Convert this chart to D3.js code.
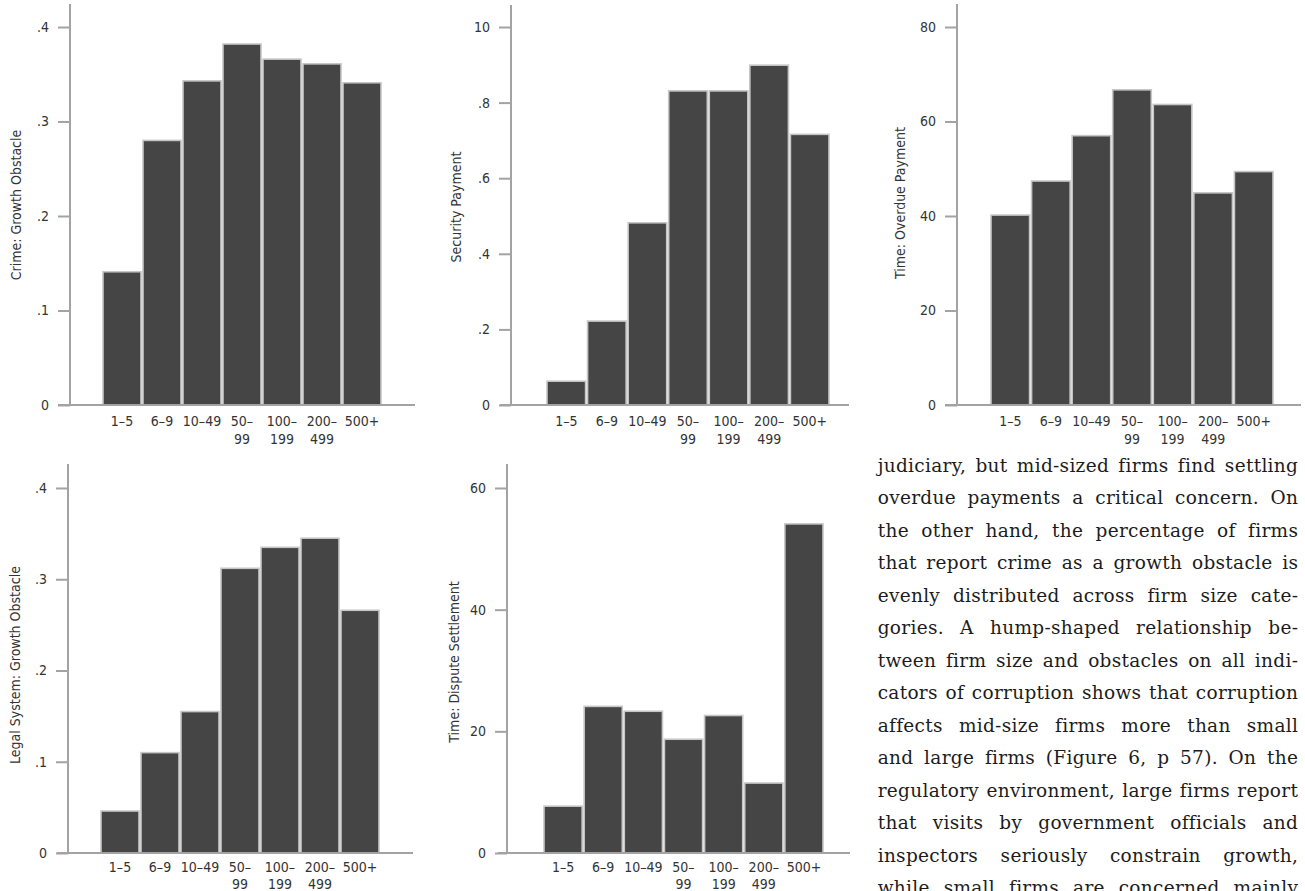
<!DOCTYPE html>
<html>
<head>
<meta charset="utf-8">
<script src="https://cdn.jsdelivr.net/npm/d3@7"></script>
<style>
  html, body { margin: 0; padding: 0; background: #ffffff; overflow: hidden; }
  svg { display: block; }
  .lbl { font-family: "Liberation Sans Narrow", "DejaVu Sans Condensed", "Roboto Condensed", "Liberation Sans", sans-serif; fill: #333333; }
  .para { font-family: "DejaVu Serif", "Liberation Serif", serif; fill: #1c1c1c; }
</style>
</head>
<body>
<svg id="chart" width="1305" height="891"></svg>
<script>
// ---------------- DATA ----------------
const categories = ["1–5", "6–9", "10–49", "50–99", "100–199", "200–499", "500+"];
const categoryLabelLines = [["1–5"], ["6–9"], ["10–49"], ["50–", "99"], ["100–", "199"], ["200–", "499"], ["500+"]];

const crimeGrowthObstacle = [0.141, 0.280, 0.343, 0.382, 0.366, 0.361, 0.341];
const securityPayment     = [0.063, 0.222, 0.482, 0.831, 0.831, 0.899, 0.716];
const timeOverduePayment  = [40.2, 47.4, 57.0, 66.7, 63.6, 44.9, 49.4];
const legalGrowthObstacle = [0.046, 0.110, 0.155, 0.312, 0.335, 0.345, 0.266];
const timeDisputeSettle   = [7.7, 24.1, 23.3, 18.7, 22.6, 11.5, 54.1];

const tenthTicks = [0, 0.1, 0.2, 0.3, 0.4];
const tenthTickLabels = ["0", ".1", ".2", ".3", ".4"];
const securityTicks = [0, 0.2, 0.4, 0.6, 0.8, 1.0];
const securityTickLabels = ["0", ".2", ".4", ".6", ".8", "10"];
const overdueTicks = [0, 20, 40, 60, 80];
const overdueTickLabels = ["0", "20", "40", "60", "80"];
const disputeTicks = [0, 20, 40, 60];
const disputeTickLabels = ["0", "20", "40", "60"];

const paragraphLines = [
  "judiciary, but mid-sized firms find settling",
  "overdue payments a critical concern. On",
  "the other hand, the percentage of firms",
  "that report crime as a growth obstacle is",
  "evenly distributed across firm size cate-",
  "gories. A hump-shaped relationship be-",
  "tween firm size and obstacles on all indi-",
  "cators of corruption shows that corruption",
  "affects mid-size firms more than small",
  "and large firms (Figure 6, p 57). On the",
  "regulatory environment, large firms report",
  "that visits by government officials and",
  "inspectors seriously constrain growth,",
  "while small firms are concerned mainly"
];

// ---------------- LAYOUT ----------------
const panels = [
  { values: crimeGrowthObstacle, title: "Crime: Growth Obstacle", ticks: tenthTicks, tickLabels: tenthTickLabels, yMax: 0.4,
    axisX: 70, axisTop: 4, y0: 405, yTop: 27, xAxisL: 58, xAxisR: 415, barL: 102, barR: 382, titleX: 20.5, titleY: 205, lab1: 21, lab2: 18 },
  { values: securityPayment, title: "Security Payment", ticks: securityTicks, tickLabels: securityTickLabels, yMax: 1.0,
    axisX: 511, axisTop: 5, y0: 405, yTop: 27, xAxisL: 500, xAxisR: 849, barL: 546, barR: 830, titleX: 461, titleY: 207, lab1: 21, lab2: 18 },
  { values: timeOverduePayment, title: "Time: Overdue Payment", ticks: overdueTicks, tickLabels: overdueTickLabels, yMax: 80,
    axisX: 957, axisTop: 4, y0: 405, yTop: 27, xAxisL: 945, xAxisR: 1301, barL: 990, barR: 1274, titleX: 905, titleY: 203, lab1: 21, lab2: 18 },
  { values: legalGrowthObstacle, title: "Legal System: Growth Obstacle", ticks: tenthTicks, tickLabels: tenthTickLabels, yMax: 0.4,
    axisX: 68, axisTop: 464, y0: 853, yTop: 488, xAxisL: 57, xAxisR: 413, barL: 100, barR: 380, titleX: 19.5, titleY: 665, lab1: 18.5, lab2: 17.5 },
  { values: timeDisputeSettle, title: "Time: Dispute Settlement", ticks: disputeTicks, tickLabels: disputeTickLabels, yMax: 60,
    axisX: 507, axisTop: 464, y0: 853, yTop: 488, xAxisL: 498, xAxisR: 850, barL: 543, barR: 824, titleX: 459, titleY: 662, lab1: 18.5, lab2: 17.5 }
];

const svg = d3.select("#chart");
const axisColor = "#a3a3a3";

panels.forEach(p => {
  const g = svg.append("g");
  const x = d3.scaleBand().domain(categories).range([p.barL, p.barR]).padding(0);
  const y = d3.scaleLinear().domain([0, p.yMax]).range([p.y0, p.yTop]);

  // bars
  g.selectAll("rect.bar")
    .data(categories.map((c, i) => ({ c, v: p.values[i] })))
    .enter().append("rect")
    .attr("class", "bar")
    .attr("x", d => x(d.c) + 1)
    .attr("width", x.bandwidth() - 2)
    .attr("y", d => y(d.v))
    .attr("height", d => p.y0 - y(d.v))
    .attr("fill", "#454545")
    .attr("stroke", "#c6c6c6")
    .attr("stroke-width", 1.6);

  // y axis
  const yAxis = d3.axisLeft(y)
    .tickValues(p.ticks)
    .tickFormat((d, i) => p.tickLabels[i])
    .tickSize(12)
    .tickPadding(9)
    .tickSizeOuter(0);
  const ya = g.append("g").attr("transform", `translate(${p.axisX},0)`).call(yAxis);
  ya.select(".domain").remove();
  ya.selectAll(".tick line").attr("stroke", axisColor).attr("stroke-width", 2);
  ya.selectAll(".tick text").attr("class", "lbl").attr("font-size", 14).attr("fill", "#333");

  g.append("line")
    .attr("x1", p.axisX).attr("x2", p.axisX)
    .attr("y1", p.axisTop).attr("y2", p.y0)
    .attr("stroke", axisColor).attr("stroke-width", 2);

  // x axis
  const xAxis = d3.axisBottom(x).tickSize(0).tickFormat("");
  const xa = g.append("g").attr("transform", `translate(0,${p.y0})`).call(xAxis);
  xa.select(".domain").remove();
  xa.selectAll(".tick text").remove();
  xa.selectAll(".tick").each(function(d, i) {
    const t = d3.select(this).append("text")
      .attr("class", "lbl")
      .attr("font-size", 14)
      .attr("text-anchor", "middle")
      .attr("y", p.lab1);
    categoryLabelLines[i].forEach((ln, k) => {
      t.append("tspan").attr("x", 0).attr("dy", k === 0 ? 0 : p.lab2).text(ln);
    });
  });
  g.append("line")
    .attr("x1", p.xAxisL).attr("x2", p.xAxisR)
    .attr("y1", p.y0).attr("y2", p.y0)
    .attr("stroke", axisColor).attr("stroke-width", 2);

  // y title
  g.append("text")
    .attr("class", "lbl")
    .attr("font-size", 14)
    .attr("text-anchor", "middle")
    .attr("transform", `translate(${p.titleX},${p.titleY}) rotate(-90)`)
    .text(p.title);
});

// ---------------- PARAGRAPH ----------------
const paraX = 877.7, paraW = 420.5, paraY0 = 471.5, paraLead = 32.5;
const pg = svg.append("g");
paragraphLines.forEach((ln, i) => {
  const t = pg.append("text")
    .attr("class", "para")
    .attr("font-size", 18.5)
    .attr("letter-spacing", 0.3)
    .attr("x", paraX)
    .attr("y", paraY0 + i * paraLead)
    .text(ln);
  const w = t.node().getComputedTextLength();
  const spaces = (ln.match(/ /g) || []).length;
  if (spaces > 0) t.attr("word-spacing", (paraW - w) / spaces);
});
</script>
</body>
</html>
